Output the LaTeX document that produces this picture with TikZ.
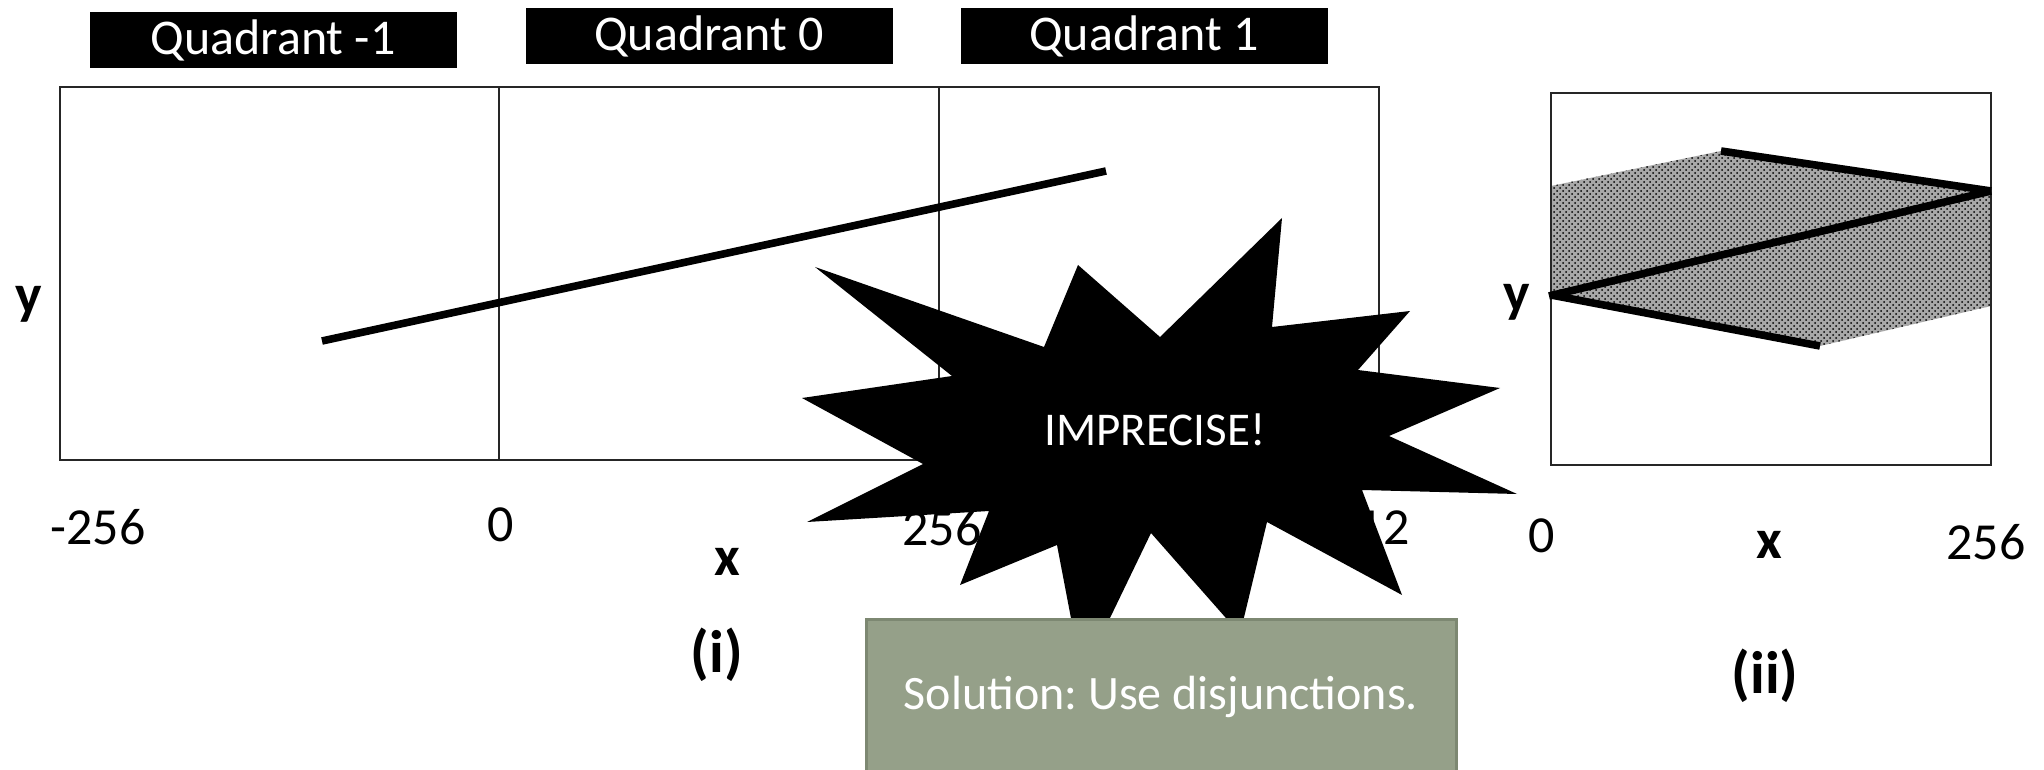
\documentclass[tikz,border=0pt]{standalone}
\usepackage{fontspec}
\setmainfont{Carlito}
\frenchspacing
\usetikzlibrary{patterns}
\definecolor{solGreen}{HTML}{95A089}
\definecolor{solEdge}{HTML}{7D8872}

\tikzset{
  quadlabel/.style={fill=black, text=white, minimum width=183.5pt, minimum height=28pt, inner sep=0pt, font=\fontsize{25}{30}\selectfont},
  ticklabel/.style={inner sep=0pt, font=\fontsize{26}{31}\selectfont},
  axislabel/.style={inner sep=0pt, font=\bfseries\fontsize{28}{33}\selectfont},
  caplabel/.style={inner sep=0pt, font=\bfseries\fontsize{30}{36}\selectfont},
  frame/.style={draw=black!85, line width=1pt},
  fitline/.style={line width=3.8pt}
}

\begin{document}
\begin{tikzpicture}[x=0.5pt, y=-0.5pt]
    \useasboundingbox (0,0) rectangle (2044,770);
    % Quadrant headers
    \node[quadlabel] (qneg) at (273,40) {Quadrant -1};
    \node[quadlabel] (qzero) at (709,36) {Quadrant 0};
    \node[quadlabel] (qone) at (1144,36) {Quadrant 1};
    % Plot (i) frame
    \draw[frame] (60,87) rectangle (1379,460);
    \draw[frame] (499,87) -- (499,460);
    \draw[frame] (939,87) -- (939,460);
    % Line across the quadrants
    \draw[fitline] (322,341) -- (1106,171);
    % Labels (i)
    \node[axislabel] (yone) at (29,304) {y};
    \node[ticklabel] (tnegsix) at (98,527) {-256};
    \node[ticklabel] (tzero) at (501,525) {0};
    \node[ticklabel] (tsix) at (942,528) {256};
    \node[ticklabel] (ttwelve) at (1370,528) {512};
    \node[axislabel] (xone) at (727,562) {x};
    \node[caplabel] (capone) at (717,655) {(i)};
    % Plot (ii) shaded band
    \fill[gray!68] (1551,186) -- (1721,151) -- (1991,191) -- (1991,306) -- (1820,346) -- (1551,295) -- cycle;
    \fill[pattern=crosshatch dots, pattern color=black] (1551,186) -- (1721,151) -- (1991,191) -- (1991,306) -- (1820,346) -- (1551,295) -- cycle;
    \draw[frame] (1551,93) rectangle (1991,465);
    \draw[fitline] (1721,151) -- (1991,191);
    \draw[fitline] (1549,296) -- (1991,191);
    \draw[fitline] (1551,295) -- (1820,346);
    % Labels (ii)
    \node[axislabel] (ytwo) at (1517,302) {y};
    \node[ticklabel] (tzerob) at (1542,536) {0};
    \node[axislabel] (xtwo) at (1769,545) {x};
    \node[ticklabel] (tsixb) at (1986,542) {256};
    \node[caplabel] (captwo) at (1765,676) {(ii)};
    % Starburst
    \fill (1282,218) -- (1272,327) -- (1410,311) -- (1358,370) -- (1500,388) -- (1389,436)
        -- (1517,494) -- (1362,490) -- (1402,595) -- (1267,522) -- (1240,634) -- (1151,533)
        -- (1082,676) -- (1057,545) -- (960,585) -- (989,511) -- (807,522) -- (923,464)
        -- (802,398) -- (952,376) -- (815,267) -- (1044,347) -- (1078,265) -- (1160,337) -- cycle;
    \node[text=white, inner sep=0pt, font=\fontsize{23.5}{28}\selectfont] (imprecise) at (1155,430) {IMPRECISE!};
    % Solution box
    \node[draw=solEdge, fill=solGreen, line width=1.5pt, minimum width=295pt, minimum height=78pt, inner sep=0pt,
        text=white, font=\fontsize{24}{29}\selectfont] (solution) at (1161,697) {Solution: Use disjunctions.};
\end{tikzpicture}
\end{document}
